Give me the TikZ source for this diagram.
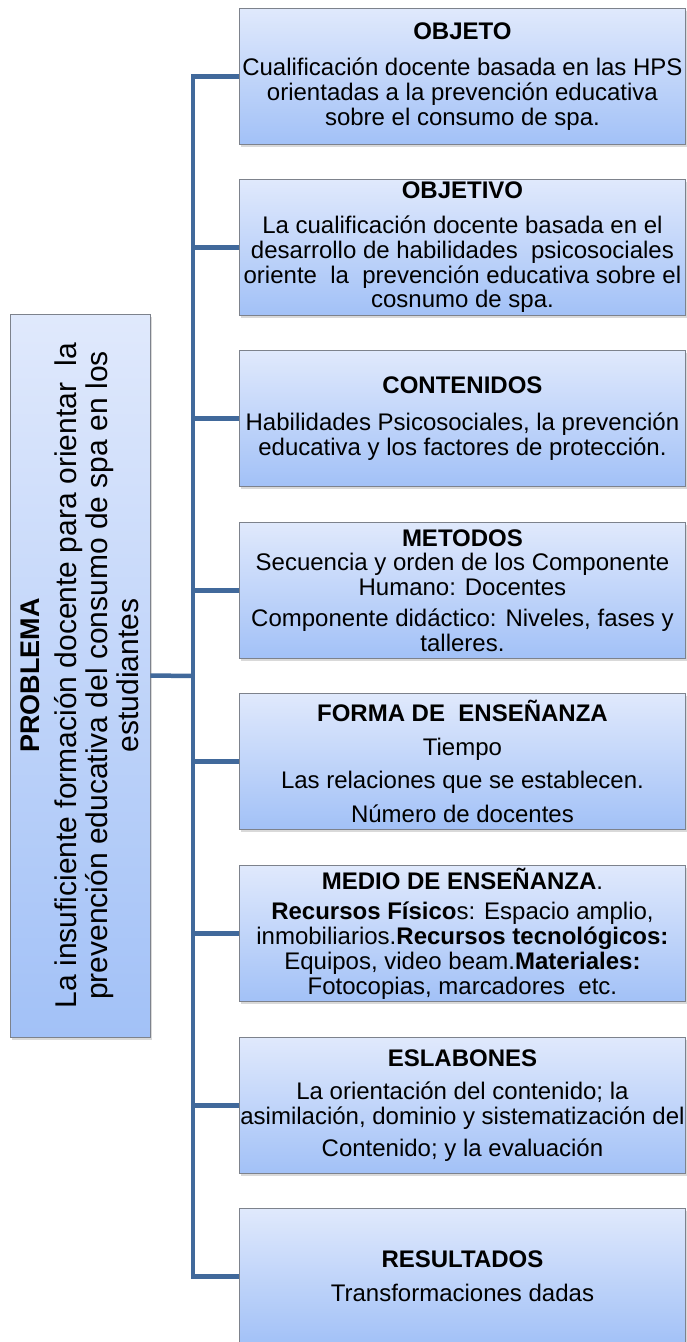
\documentclass[tikz,border=0pt]{standalone}
\usepackage{fontspec}
\setmainfont{Liberation Sans}
\usetikzlibrary{shadows}
\definecolor{busblue}{RGB}{65,105,155}
\definecolor{boxtop}{RGB}{224,233,252}
\definecolor{boxbot}{RGB}{162,193,247}
\definecolor{boxline}{RGB}{125,130,140}
\begin{document}
\begin{tikzpicture}[x=1pt,y=-1pt,
  card/.style={draw=boxline, line width=0.9pt, top color=boxtop, bottom color=boxbot,
    drop shadow={opacity=0.3,shadow xshift=2pt,shadow yshift=-3pt},
    minimum width=446pt, minimum height=136pt, inner sep=0pt, align=center,
    font=\fontsize{24}{24.8}\selectfont, anchor=north west},
  pbox/.style={draw=boxline, line width=0.9pt, top color=boxtop, bottom color=boxbot,
    drop shadow={opacity=0.3,shadow xshift=2pt,shadow yshift=-3pt},
    minimum width=140pt, minimum height=723pt, inner sep=0pt},
  ptext/.style={rotate=90, align=center, inner sep=0pt, font=\fontsize{30}{31}\selectfont},
  conn/.style={draw=busblue, line width=4.5pt, line join=miter}]
\useasboundingbox (0,0) rectangle (686,1342);

\node[pbox] (P) at (80,675.5) {};
\node[ptext] (Pt) at (P.center) {{\fontsize{27}{31}\selectfont\bfseries PROBLEMA}\\[6pt]
La insuficiente formación docente para orientar\ \ la\\
prevención educativa del consumo de spa en los\\
estudiantes};

\node[card] (b1) at (239,8) {\textbf{OBJETO}\\[12pt]
Cualificación docente basada en las HPS\\
orientadas a la prevención educativa\\
sobre el consumo de spa.};

\node[card] (b2) at (239,179) {\textbf{OBJETIVO}\\[10pt]
La cualificación docente basada en el\\
desarrollo de habilidades\ \ psicosociales\\
oriente\ \ la\ \ prevención educativa sobre el\\
cosnumo de spa.};

\node[card] (b3) at (239,350) {\textbf{CONTENIDOS}\\[12pt]
Habilidades Psicosociales, la prevención\\
educativa y los factores de protección.};

\node[card] (b4) at (239,522) {\textbf{METODOS}\\
Secuencia y orden de los Componente\\
Humano: Docentes\\[6pt]
Componente didáctico: Niveles, fases y\\
talleres.};

\node[card] (b5) at (239,693) {\textbf{FORMA DE\ \ ENSEÑANZA}\\[9pt]
Tiempo\\[9pt]
Las relaciones que se establecen.\\[9pt]
Número de docentes};

\node[card] (b6) at (239,865) {\textbf{MEDIO DE ENSEÑANZA}.\\[6pt]
\textbf{Recursos Físico}s: Espacio amplio,\\
inmobiliarios.\textbf{Recursos tecnológicos:}\\
Equipos, video beam.\textbf{Materiales:}\\
Fotocopias, marcadores\ \ etc.};

\node[card] (b7) at (239,1037) {\textbf{ESLABONES}\\[9pt]
La orientación del contenido; la\\
asimilación, dominio y sistematización del\\[7pt]
Contenido; y la evaluación};

\node[card] (b8) at (239,1208) {\textbf{RESULTADOS}\\[9pt]
Transformaciones dadas};

\coordinate (bus) at (193,676);

\draw[conn] (b1.west) -- (b1.west -| bus) -- (b8.west -| bus) -- (b8.west);
\foreach \b in {b2,b3,b4,b5,b6,b7}{
  \draw[conn] (\b.west) -- (\b.west -| bus);
}
\draw[conn] (P.east) -- (bus);
\end{tikzpicture}
\end{document}
